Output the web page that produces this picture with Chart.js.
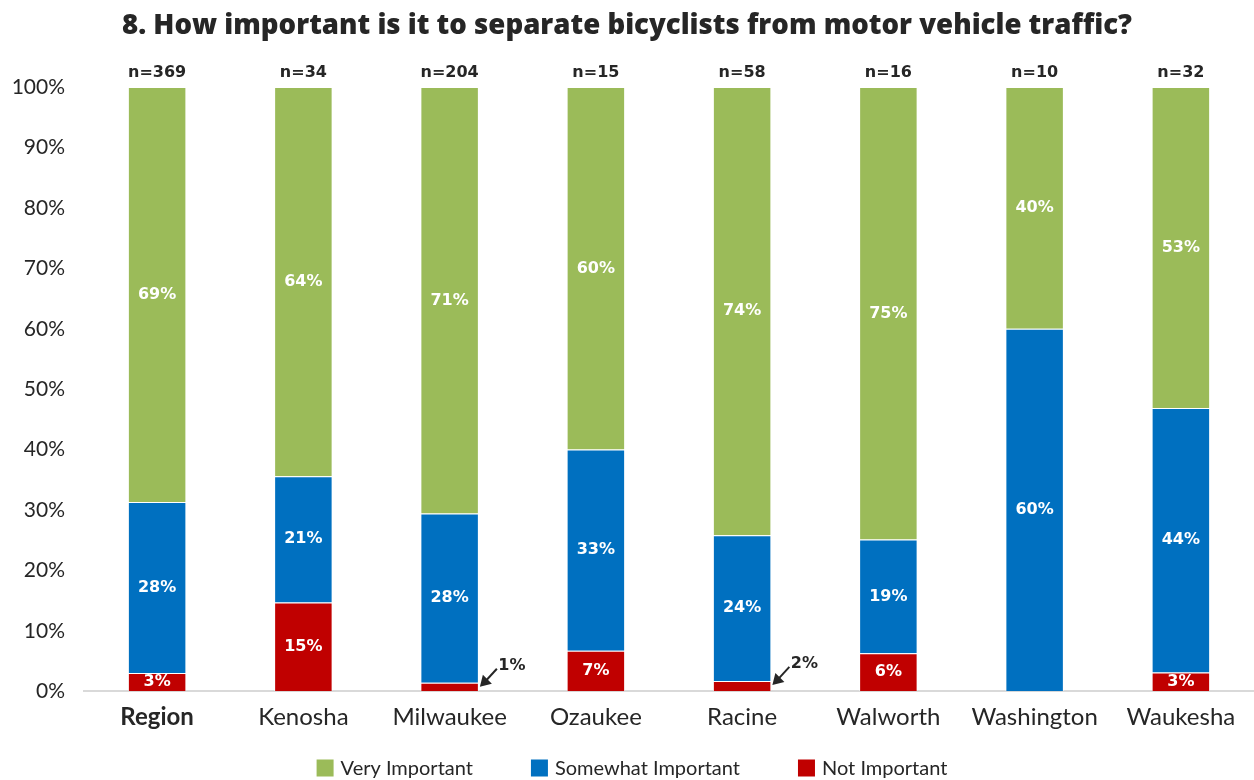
<!DOCTYPE html>
<html>
<head>
<meta charset="utf-8">
<script src="https://cdn.jsdelivr.net/npm/chart.js@4.4.1/dist/chart.umd.min.js"></script>
<style>
  html, body { margin:0; padding:0; background:#fff; }
  #wrap { width:1254px; height:780px; }
</style>
</head>
<body>
<div id="wrap"><canvas id="chart" width="1254" height="780"></canvas></div>
<script>
// data (percent of respondents)
const categories = ['Region','Kenosha','Milwaukee','Ozaukee','Racine','Walworth','Washington','Waukesha'];
const sampleSizes = [369, 34, 204, 15, 58, 16, 10, 32];
const notImportant = [3.0, 14.7, 1.4, 6.7, 1.7, 6.3, 0, 3.1];
const somewhatImportant = [28.3, 20.9, 28.0, 33.3, 24.1, 18.8, 60.0, 43.8];
const veryImportant = [68.7, 64.4, 70.6, 60.0, 74.2, 74.9, 40.0, 53.1];
const yTicks = [0,10,20,30,40,50,60,70,80,90,100];

const FONT = 'Lato, "Open Sans", sans-serif';
const BOLD = '"DejaVu Sans", Lato, sans-serif';
const TXT = '#262626';

// labels inside the segments, small ones get an arrow + outside label
const segLabels = {
  id: 'segLabels',
  afterDatasetsDraw(chart){
    const ctx = chart.ctx;
    ctx.save();
    ctx.textAlign = 'center';
    ctx.textBaseline = 'middle';
    chart.data.datasets.forEach((ds, di)=>{
      const meta = chart.getDatasetMeta(di);
      meta.data.forEach((bar, i)=>{
        const v = ds.data[i];
        if(!v) return;
        const txt = Math.round(v) + '%';
        if(v < 2.5){
          const tipX = bar.x + bar.width/2 + 1, tipY = bar.y + 4;
          const tailX = tipX + 17, tailY = tipY - 18;
          ctx.strokeStyle = TXT; ctx.fillStyle = TXT; ctx.lineWidth = 2;
          ctx.beginPath(); ctx.moveTo(tailX, tailY); ctx.lineTo(tipX + 6, tipY - 6); ctx.stroke();
          ctx.beginPath(); ctx.moveTo(tipX, tipY); ctx.lineTo(tipX + 3, tipY - 12); ctx.lineTo(tipX + 12, tipY - 3); ctx.closePath(); ctx.fill();
          ctx.font = 'bold 16px ' + BOLD;
          ctx.fillText(txt, tailX + 15, tailY - 3);
          return;
        }
        const top = bar.y, bottom = bar.base;
        ctx.fillStyle = '#fff';
        ctx.font = 'bold 16px ' + BOLD;
        ctx.fillText(txt, bar.x, (top + bottom)/2);
      });
    });
    // n= above each column
    const meta = chart.getDatasetMeta(0);
    const yTop = chart.scales.y.getPixelForValue(100);
    ctx.fillStyle = TXT;
    ctx.font = 'bold 16px ' + BOLD;
    meta.data.forEach((bar, i)=>{
      ctx.fillText('n=' + sampleSizes[i], bar.x, yTop - 14);
    });
    ctx.restore();
  }
};

// legend drawn by hand so the spacing matches
const bottomLegend = {
  id: 'bottomLegend',
  afterDraw(chart){
    const ctx = chart.ctx;
    const items = chart.data.datasets.slice().reverse();
    const box = 17, gap = 7, spacing = 58, y = 768;
    ctx.save();
    ctx.font = '20px ' + FONT;
    ctx.textBaseline = 'middle';
    ctx.textAlign = 'left';
    const widths = items.map(d => box + gap + ctx.measureText(d.label).width);
    const total = widths.reduce((a,b)=>a+b, 0) + spacing*(items.length-1);
    let x = chart.width/2 - total/2 + 5;
    items.forEach((d, i)=>{
      ctx.fillStyle = d.backgroundColor;
      ctx.fillRect(x, y - box/2, box, box);
      ctx.fillStyle = TXT;
      ctx.fillText(d.label, x + box + gap, y + 1);
      x += widths[i] + spacing;
    });
    ctx.restore();
  }
};

new Chart(document.getElementById('chart').getContext('2d'), {
  type: 'bar',
  data: {
    labels: categories,
    datasets: [
      { label:'Not Important', data:notImportant, backgroundColor:'#C00000' },
      { label:'Somewhat Important', data:somewhatImportant, backgroundColor:'#0070C0' },
      { label:'Very Important', data:veryImportant, backgroundColor:'#9BBB59' }
    ].map(d => Object.assign(d, { borderColor:'rgba(255,255,255,0.55)', borderWidth:1, barPercentage:0.4, categoryPercentage:1 }))
  },
  options: {
    responsive: false,
    animation: false,
    layout: { padding: { top: 0, right: 0, bottom: 36, left: 0 } },
    plugins: {
      legend: { display: false },
      tooltip: { enabled: false },
      title: {
        display: true,
        text: '8. How important is it to separate bicyclists from motor vehicle traffic?',
        color: TXT,
        font: { family: '"Open Sans", sans-serif', size: 27.6, weight: '800' },
        padding: { top: 10, bottom: 44 }
      }
    },
    scales: {
      x: {
        stacked: true,
        grid: { display: false, drawTicks: false },
        border: { display: true, color: '#d9d9d9', width: 2 },
        ticks: {
          color: TXT,
          padding: 12,
          font: (c) => ({ family: FONT, size: 24, weight: c.index === 0 ? 'bold' : 'normal' })
        }
      },
      y: {
        stacked: true,
        min: 0, max: 100,
        afterFit(scale){ scale.width = 84; },
        afterBuildTicks(scale){ scale.ticks = yTicks.map(v => ({ value: v })); },
        grid: { display: false, drawTicks: false },
        border: { display: false },
        ticks: {
          color: TXT,
          padding: 19,
          font: { family: FONT, size: 21 },
          callback: v => v + '%'
        }
      }
    }
  },
  plugins: [segLabels, bottomLegend]
});
</script>
</body>
</html>
